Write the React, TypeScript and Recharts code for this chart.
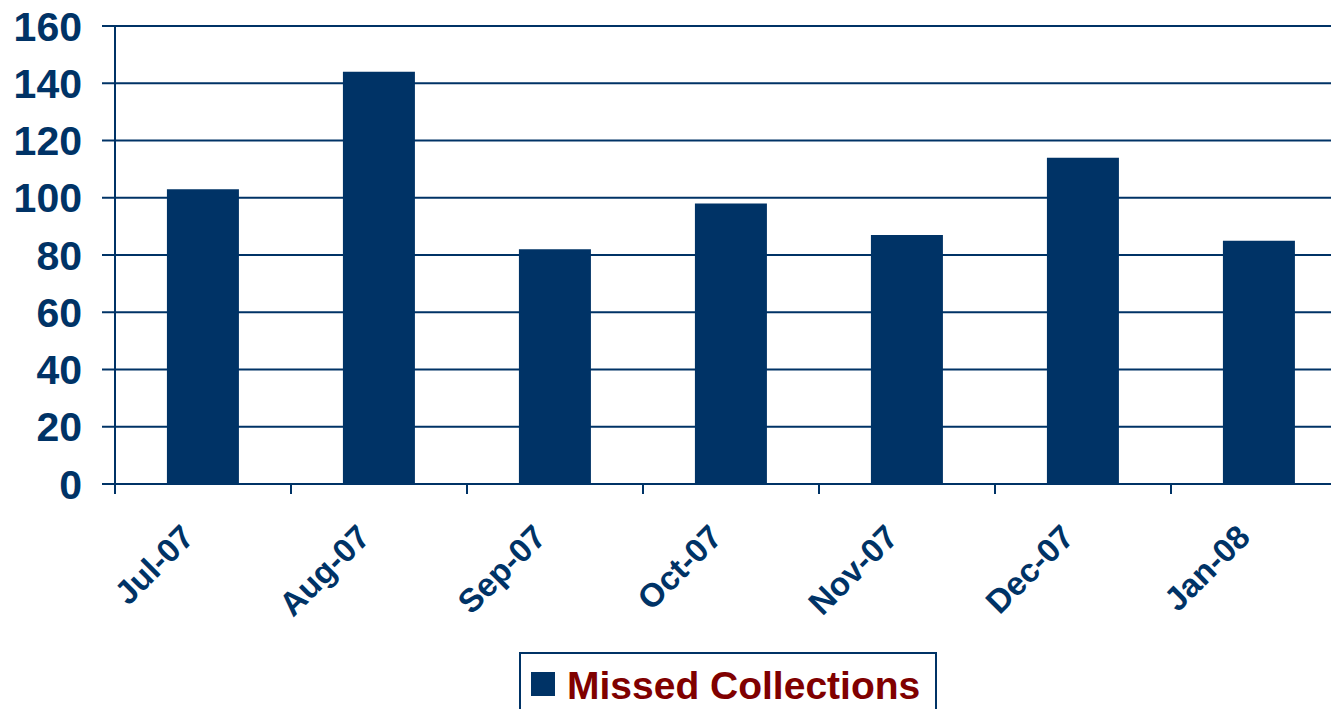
import { BarChart, Bar, XAxis, YAxis, CartesianGrid, Legend } from 'recharts'

const months = ['Jul-07', 'Aug-07', 'Sep-07', 'Oct-07', 'Nov-07', 'Dec-07', 'Jan-08']
const missedCollections = [103, 144, 82, 98, 87, 114, 85]
const yTicks = [0, 20, 40, 60, 80, 100, 120, 140, 160]

const data = months.map((month, i) => ({ month, missed: missedCollections[i] }))

const NAVY = '#003366'
const FONT = '"Liberation Sans", Arial, sans-serif'

function MonthTick(props: any) {
  const { x, y, payload } = props
  // tick marks sit on category boundaries, labels end just left of the centre
  const edge = x - (payload.offset ?? 0)
  const tx = x - 7
  const ty = y + 55
  return (
    <g>
      <line x1={edge} y1={y} x2={edge} y2={y + 10} stroke={NAVY} strokeWidth={2} />
      <text
        x={tx}
        y={ty}
        transform={`rotate(-45, ${tx}, ${ty})`}
        textAnchor="end"
        fill={NAVY}
        fontSize={33}
        fontWeight="bold"
        fontFamily={FONT}
      >
        {payload.value}
      </text>
    </g>
  )
}

function LegendBox() {
  return (
    <div
      style={{
        border: `2px solid ${NAVY}`,
        background: '#fff',
        height: 70,
        boxSizing: 'border-box',
        display: 'flex',
        alignItems: 'flex-start',
        paddingTop: 14,
        paddingLeft: 10,
      }}
    >
      <span style={{ width: 24, height: 24, background: NAVY, marginTop: 4, marginRight: 12 }} />
      <span
        style={{
          color: '#800000',
          fontFamily: FONT,
          fontWeight: 'bold',
          fontSize: 39,
          lineHeight: '36px',
          whiteSpace: 'nowrap',
        }}
      >
        Missed Collections
      </span>
    </div>
  )
}

export default function App() {
  return (
    <div style={{ position: 'fixed', left: 0, top: 0, width: 1331, height: 709, overflow: 'hidden', background: '#fff' }}>
      <BarChart
        width={1360}
        height={709}
        data={data}
        margin={{ top: 26, right: 13, left: 0, bottom: 0 }}
        barCategoryGap="29.5%"
      >
        <CartesianGrid vertical={false} stroke={NAVY} strokeWidth={2} strokeOpacity={1} />
        <XAxis
          dataKey="month"
          height={225}
          axisLine={{ stroke: NAVY, strokeWidth: 2 }}
          tickLine={false}
          tickSize={0}
          tickMargin={0}
          interval={0}
          tick={<MonthTick />}
        />
        <YAxis
          width={115}
          domain={[0, 160]}
          ticks={yTicks}
          interval={0}
          axisLine={{ stroke: NAVY, strokeWidth: 2 }}
          tickLine={{ stroke: NAVY, strokeWidth: 2 }}
          tickSize={13}
          tickMargin={20}
          tick={{ fill: NAVY, fontSize: 41, fontWeight: 'bold', fontFamily: FONT }}
        />
        <Legend
          layout="horizontal"
          verticalAlign="middle"
          align="center"
          wrapperStyle={{ left: 519, top: 652, width: 418 }}
          content={() => <LegendBox />}
        />
        <Bar dataKey="missed" fill={NAVY} isAnimationActive={false} />
      </BarChart>
    </div>
  )
}
